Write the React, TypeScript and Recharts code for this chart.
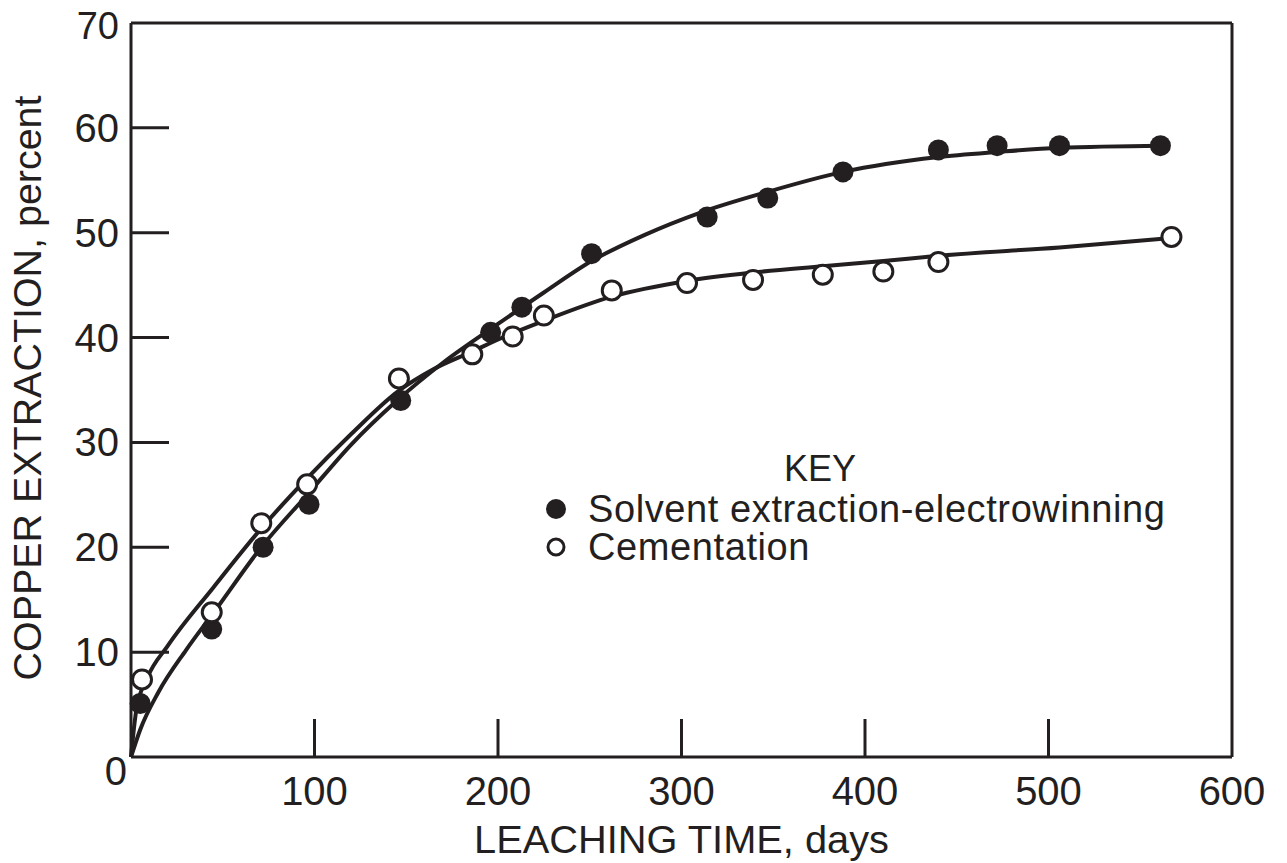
import { ComposedChart, Legend, Line, Scatter, XAxis, YAxis } from "recharts";

const sxewDays = [5, 44, 72, 97, 147, 196, 213, 251, 314, 347, 388, 440, 472, 506, 561];
const sxewPct = [5.1, 12.2, 20.0, 24.1, 34.0, 40.5, 42.9, 48.0, 51.5, 53.3, 55.8, 57.9, 58.3, 58.3, 58.3];
const cemDays = [6, 44, 71, 96, 146, 186, 208, 225, 262, 303, 339, 377, 410, 440, 567];
const cemPct = [7.4, 13.8, 22.3, 26.0, 36.1, 38.4, 40.1, 42.1, 44.5, 45.2, 45.5, 46.0, 46.3, 47.2, 49.6];

// the hand-drawn fit curves
const sxewFitDays = [0, 5, 15, 30, 46, 71, 97, 120, 145, 170, 200, 225, 251, 280, 310, 347, 388, 439, 472, 506, 562];
const sxewFitPct = [0, 2.6, 6.2, 10.2, 14.0, 20.0, 25.2, 29.8, 34.0, 37.6, 41.3, 44.3, 47.3, 49.8, 51.9, 53.9, 55.8, 57.2, 57.7, 58.1, 58.3];
const cemFitDays = [0, 3, 9, 20, 45, 71, 95, 120, 145, 165, 185, 205, 225, 262, 303, 339, 377, 410, 440, 506, 567];
const cemFitPct = [0, 4.6, 7.6, 10.6, 16.2, 21.8, 26.4, 30.8, 34.8, 37.0, 38.6, 40.2, 41.6, 43.9, 45.4, 46.2, 46.8, 47.3, 47.8, 48.6, 49.5];

const xTicks = [0, 100, 200, 300, 400, 500, 600];
const yTicks = [0, 10, 20, 30, 40, 50, 60, 70];

const SXEW = "Solvent extraction-electrowinning";
const CEM = "Cementation";

const ink = "#231f20";
const font = "'Liberation Sans', Arial, sans-serif";

const zip = (xs: number[], ys: number[]) => xs.map((d, i) => ({ days: d, pct: ys[i] }));

function LeftTick({ x, y, payload }: any) {
  const v = payload.value;
  let ty = y;
  if (v === 0) ty = y + 14;
  if (v === 70) ty = y + 3;
  return (
    <g>
      {v > 0 && v < 70 && <line x1={x} x2={x + 38} y1={y} y2={y} stroke={ink} strokeWidth={3} />}
      <text
        x={v === 0 ? x - 4 : x - 12}
        y={ty}
        textAnchor="end"
        dominantBaseline="central"
        fontSize={v === 70 ? 38 : 40}
        fontFamily={font}
        fill={ink}
      >
        {v}
      </text>
    </g>
  );
}

function RightTick({ x, y, payload }: any) {
  const v = payload.value;
  if (v <= 0 || v >= 70) return <g />;
  return <line x1={x} x2={x - 38} y1={y} y2={y} stroke={ink} strokeWidth={3} />;
}

function BottomTick({ x, y, payload }: any) {
  const v = payload.value;
  return (
    <g>
      {v > 0 && v < 600 && <line x1={x} x2={x} y1={y} y2={y - 38} stroke={ink} strokeWidth={3} />}
      {v > 0 && (
        <text x={x} y={y + 34} textAnchor="middle" dominantBaseline="central" fontSize={40} fontFamily={font} fill={ink}>
          {v}
        </text>
      )}
    </g>
  );
}

function TopTick({ x, y, payload }: any) {
  const v = payload.value;
  if (v <= 0 || v >= 600) return <g />;
  return <line x1={x} x2={x} y1={y} y2={y + 40} stroke={ink} strokeWidth={3} />;
}

function FilledDot({ cx, cy }: any) {
  return <circle cx={cx} cy={cy} r={10.5} fill={ink} />;
}

function OpenDot({ cx, cy }: any) {
  return <circle cx={cx} cy={cy} r={9.5} fill="#fff" stroke={ink} strokeWidth={3} />;
}

function XTitle({ viewBox }: any) {
  const { x, y, width } = viewBox;
  return (
    <text x={x + width / 2} y={y + 96} textAnchor="middle" fontSize={38} fontFamily={font} fill={ink} textLength={415} lengthAdjust="spacingAndGlyphs">
      LEACHING TIME, days
    </text>
  );
}

function YTitle({ viewBox }: any) {
  const { x, y, width, height } = viewBox;
  const cx = x + width - 103;
  const cy = y + height / 2 - 2;
  return (
    <text
      x={cx}
      y={cy}
      transform={`rotate(-90 ${cx} ${cy})`}
      textAnchor="middle"
      dominantBaseline="central"
      fontSize={38}
      fontFamily={font}
      fill={ink}
      textLength={585}
      lengthAdjust="spacingAndGlyphs"
    >
      COPPER EXTRACTION, percent
    </text>
  );
}

function KeyBox({ payload }: any) {
  const items = [SXEW, CEM].filter((name) => (payload ?? []).some((p: any) => p.value === name));
  return (
    <div style={{ fontFamily: font, color: ink }}>
      <div style={{ width: 564, textAlign: "center", fontSize: 36, height: 42, lineHeight: "42px" }}>KEY</div>
      {items.map((name) => (
        <div key={name} style={{ display: "flex", alignItems: "center", height: 38 }}>
          <svg width={36} height={36} style={{ marginRight: 14 }}>
            {name === SXEW ? (
              <circle cx={18} cy={18} r={10} fill={ink} />
            ) : (
              <circle cx={18} cy={18} r={8} fill="#fff" stroke={ink} strokeWidth={3} />
            )}
          </svg>
          <span style={{ fontSize: 38, letterSpacing: 0.6, whiteSpace: "nowrap" }}>{name}</span>
        </div>
      ))}
    </div>
  );
}

export default function App() {
  return (
    <>
      <style>{`.recharts-surface { overflow: visible; }`}</style>
      <ComposedChart width={1279} height={855} margin={{ top: 14, right: 54, bottom: 105, left: 122 }}>
        <XAxis
          dataKey="days"
          type="number"
          domain={[0, 600]}
          ticks={xTicks}
          interval={0}
          height={1}
          tickSize={0}
          tickMargin={0}
          tick={<BottomTick />}
          tickLine={false}
          axisLine={{ stroke: ink, strokeWidth: 3 }}
          label={<XTitle />}
        />
        <XAxis
          xAxisId="top"
          orientation="top"
          dataKey="days"
          type="number"
          domain={[0, 600]}
          ticks={xTicks}
          interval={0}
          height={1}
          tickSize={0}
          tickMargin={0}
          tick={<TopTick />}
          tickLine={false}
          axisLine={{ stroke: ink, strokeWidth: 3 }}
        />
        <YAxis
          type="number"
          domain={[0, 70]}
          ticks={yTicks}
          interval={0}
          width={1}
          tickSize={0}
          tickMargin={0}
          tick={<LeftTick />}
          tickLine={false}
          axisLine={{ stroke: ink, strokeWidth: 3 }}
          label={<YTitle />}
        />
        <YAxis
          yAxisId="right"
          orientation="right"
          type="number"
          domain={[0, 70]}
          ticks={yTicks}
          interval={0}
          width={1}
          tickSize={0}
          tickMargin={0}
          tick={<RightTick />}
          tickLine={false}
          axisLine={{ stroke: ink, strokeWidth: 3 }}
        />
        <Line data={zip(sxewFitDays, sxewFitPct)} dataKey="pct" type="monotone" dot={false} stroke={ink} strokeWidth={4} legendType="none" isAnimationActive={false} />
        <Line data={zip(cemFitDays, cemFitPct)} dataKey="pct" type="monotone" dot={false} stroke={ink} strokeWidth={4} legendType="none" isAnimationActive={false} />
        <Scatter name={SXEW} data={zip(sxewDays, sxewPct)} dataKey="pct" shape={<FilledDot />} isAnimationActive={false} />
        <Scatter name={CEM} data={zip(cemDays, cemPct)} dataKey="pct" shape={<OpenDot />} isAnimationActive={false} />
        <Legend
          layout="vertical"
          align="center"
          verticalAlign="middle"
          content={<KeyBox />}
          wrapperStyle={{ position: "absolute", left: 530, top: 440, width: 720 }}
        />
      </ComposedChart>
    </>
  );
}
